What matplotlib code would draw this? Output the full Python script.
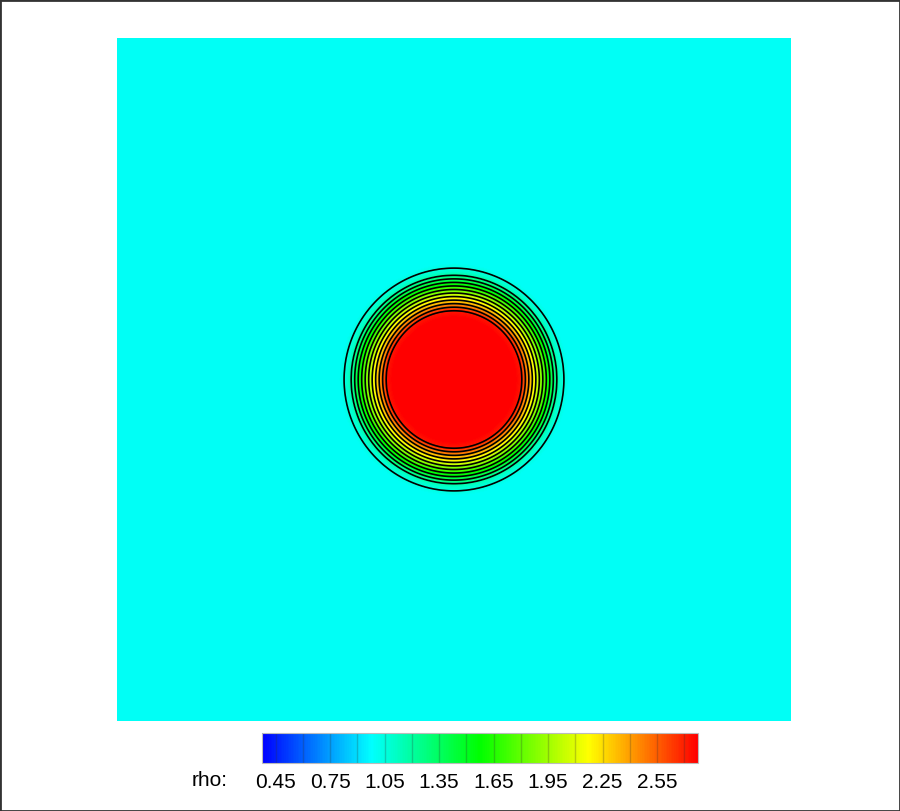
# Density field (rho) with flood + contour lines, Tecplot-like look
import numpy as np
import matplotlib
matplotlib.use("Agg")
import matplotlib.pyplot as plt
from matplotlib.colors import LinearSegmentedColormap, Normalize
from matplotlib.patches import Rectangle

plt.rcParams['font.family'] = ['Liberation Sans', 'DejaVu Sans']

# data
# radial profile of rho (r in domain units, domain is [-1, 1] x [-1, 1])
r_nodes = [0.0, 0.18, 0.20, 0.305, 0.315, 0.326, 0.34, 1.5]
rho_nodes = [2.78, 2.78, 2.72, 1.20, 1.10, 1.05, 1.00, 1.00]

levels = [0.45, 0.60, 0.75, 0.90, 1.05, 1.20, 1.35, 1.50, 1.65, 1.80,
          1.95, 2.10, 2.25, 2.40, 2.55, 2.70]
tick_vals = [0.45, 0.75, 1.05, 1.35, 1.65, 1.95, 2.25, 2.55]
tick_labels = ["0.45", "0.75", "1.05", "1.35", "1.65", "1.95", "2.25", "2.55"]
vmin, vmax = 0.375, 2.775

# field
n = 700
x = np.linspace(-1, 1, n)
y = np.linspace(-1, 1, n)
X, Y = np.meshgrid(x, y)
R = np.sqrt(X**2 + Y**2)
rho = np.interp(R, r_nodes, rho_nodes)

cmap = LinearSegmentedColormap.from_list(
    "small_rainbow", ["#0000ff", "#00ffff", "#00ff00", "#ffff00", "#ff0000"])
norm = Normalize(vmin=vmin, vmax=vmax)

fig = plt.figure(figsize=(9, 8.11), dpi=100)
W, H = 900, 811

ax = fig.add_axes([117 / W, (H - 721) / H, 674 / W, 683 / H])
im = ax.pcolormesh(X, Y, rho, cmap=cmap, norm=norm, shading="auto")
ax.contour(X, Y, rho, levels=levels, colors="black", linewidths=1.2)
ax.set_xlim(-1, 1)
ax.set_ylim(-1, 1)
ax.axis("off")

# colour bar
cax = fig.add_axes([262 / W, (H - 763) / H, 436 / W, 30 / H])
cb = fig.colorbar(im, cax=cax, orientation="horizontal", ticks=tick_vals)
cb.ax.set_xticklabels(tick_labels)
cb.ax.tick_params(length=0, pad=7, labelsize=15)
cb.outline.set_edgecolor("#bbbbbb")
cb.outline.set_linewidth(0.8)
for lv in levels:
    cb.ax.axvline(lv, color="#333333", alpha=0.25, lw=1.0)

fig.text(192 / W, (H - 781) / H, "rho:", fontsize=15, va="center", ha="left")

# frame round the figure
fig.add_artist(Rectangle((0, 0), 1, 1, transform=fig.transFigure, fill=False,
                         edgecolor="#333333", lw=2))

fig.savefig("out.png", dpi=100)
